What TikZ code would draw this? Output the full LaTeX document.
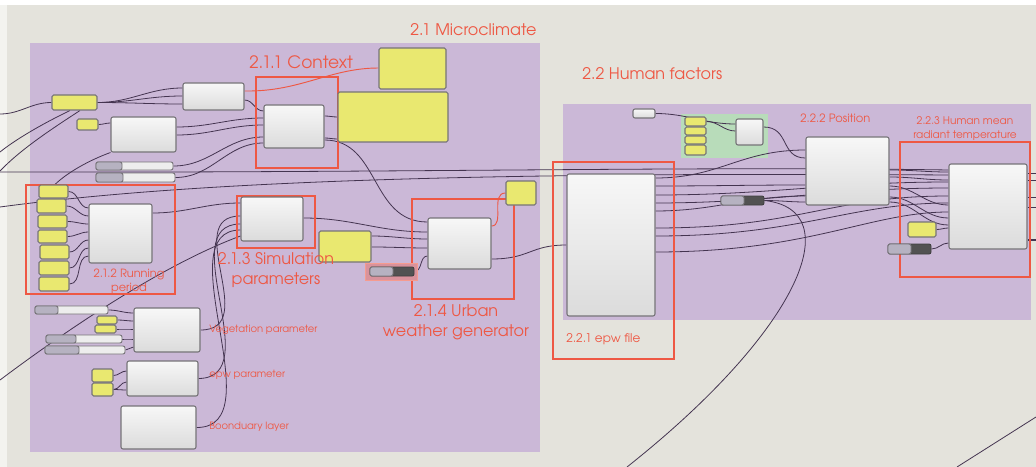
\documentclass[tikz,border=0pt]{standalone}
\usepackage{fontspec}
\setmainfont{texgyreadventor}[Extension=.otf, UprightFont=*-regular, BoldFont=*-bold]
\usetikzlibrary{fit,calc}
\definecolor{bg}{RGB}{228,227,220}
\definecolor{grp}{RGB}{203,184,215}
\definecolor{ylw}{RGB}{233,232,112}
\definecolor{redc}{RGB}{238,88,68}
\definecolor{grn}{RGB}{184,220,186}
\definecolor{wirec}{RGB}{68,52,80}
\definecolor{edgec}{RGB}{118,116,120}
\definecolor{knob}{RGB}{182,178,193}
\pgfdeclarelayer{grpL}
\pgfdeclarelayer{wireL}
\pgfdeclarelayer{frameL}
\pgfsetlayers{grpL,wireL,frameL,main}
\newcommand\bx[6]{\node[#1, fit={(#3,#4) (#5,#6)}, inner sep=0pt] (#2) {};}
\newcommand\sld[7]{%
  \node[#1, fit={(#3,#4) (#6,#7)}, inner sep=0pt] (#2) {};
  \node[sldknob, fit={(#3,#4) (#5,#7)}, inner sep=0pt] (#2k) {};}
\tikzset{
  grpbox/.style={fill=grp, draw=none},
  grnbox/.style={fill=grn, draw=none},
  frame/.style={draw=redc, line width=0.9pt},
  hlbox/.style={fill=redc!40!grp, draw=redc!60, line width=0.5pt},
  comp/.style={draw=edgec, line width=0.8pt, rounded corners=1.5pt, top color=white!97!black, bottom color=white!86!black},
  ylwbox/.style={draw=edgec, fill=ylw, line width=0.8pt, rounded corners=1.2pt},
  sldlight/.style={draw=edgec, fill=white!93!black, line width=0.7pt, rounded corners=1.5pt},
  slddark/.style={draw=black!75, fill=black!68, line width=0.7pt, rounded corners=1.5pt},
  sldknob/.style={draw=edgec, fill=knob, line width=0.7pt, rounded corners=1.5pt},
  wire/.style={draw=wirec, line width=0.6pt},
  redwire/.style={draw=redc, line width=0.7pt},
  lbl/.style={text=redc, inner sep=0pt},
  big/.style={font=\fontsize{12}{15}\selectfont},
  small/.style={font=\fontsize{7.5}{10.5}\selectfont},
}
\begin{document}
\begin{tikzpicture}[x=0.75pt,y=-0.75pt]
\useasboundingbox (0,0) rectangle (1036,467);
\begin{pgfonlayer}{grpL}
\fill[bg] (0,0) rectangle (1036,467);
\fill[white!55!bg] (0,0) rectangle (7,467);
\fill[white] (0,0) rectangle (1036,5);
\bx{grpbox}{G1}{30}{43}{540}{452}
\bx{grpbox}{G2}{563}{104}{1031}{320}
\bx{grnbox}{G3}{681}{114}{768}{158}
\end{pgfonlayer}

% free ends
\coordinate (L1) at (0,114);
\coordinate (L2) at (0,152);
\coordinate (L2b) at (0,171);
\coordinate (L4) at (0,172);
\coordinate (L3) at (0,207);
\coordinate (L6) at (0,380);
\coordinate (E1) at (627,467);
\coordinate (E2) at (957,467);
\coordinate (E3) at (1036,417);
\coordinate (O1) at (1036,173);
\coordinate (O2) at (1036,180);
\coordinate (O3) at (1036,197);
\coordinate (O4) at (1036,207);
\coordinate (O5) at (1036,240);

% ---------- Microclimate components ----------
\bx{comp}{A}{183}{83}{244}{110}
\bx{comp}{B}{264}{105}{324}{148}
\bx{comp}{C}{111}{117}{176}{152}
\bx{ylwbox}{P1}{379}{48}{446}{89}
\bx{ylwbox}{P2}{338}{92}{448}{142}
\bx{ylwbox}{Y1}{52}{95}{97}{110}
\bx{ylwbox}{Y2}{77}{119}{98}{130}
\sld{sldlight}{S1}{96}{162}{122}{173}{170}
\sld{sldlight}{S2}{96}{173}{123}{175}{182}
\bx{ylwbox}{R1}{39}{185}{68}{198}
\bx{ylwbox}{R2}{37}{199}{66}{213}
\bx{ylwbox}{R3}{38}{215}{67}{228}
\bx{ylwbox}{R4}{38}{230}{67}{243}
\bx{ylwbox}{R5}{40}{245}{69}{259}
\bx{ylwbox}{R6}{39}{261}{69}{275}
\bx{ylwbox}{R7}{39}{277}{69}{291}
\bx{comp}{RB}{89}{204}{152}{263}
\bx{comp}{SP}{241}{197}{303}{241}
\bx{ylwbox}{P3}{319}{231}{371}{262}
\bx{comp}{UWG}{428}{218}{491}{269}
\bx{ylwbox}{Y3}{506}{181}{536}{205}
\sld{sldlight}{S4}{35}{306}{58}{108}{314}
\bx{ylwbox}{Y4}{97}{316}{117}{324}
\bx{ylwbox}{Y5}{95}{325}{116}{333}
\sld{sldlight}{S5}{46}{335}{76}{122}{343}
\sld{sldlight}{S6}{45}{346}{79}{125}{354}
\bx{comp}{VEG}{134}{308}{200}{352}
\bx{ylwbox}{Y6}{92}{369}{113}{382}
\bx{ylwbox}{Y7}{92}{383}{113}{396}
\bx{comp}{EPW}{127}{361}{198}{396}
\bx{comp}{BL}{121}{406}{196}{449}

% ---------- Human factors components ----------
\bx{comp}{W1}{633}{109}{655}{118}
\bx{ylwbox}{Y8}{685}{117}{706}{126}
\bx{ylwbox}{Y9}{685}{127}{706}{135}
\bx{ylwbox}{Y10}{685}{136}{706}{144}
\bx{ylwbox}{Y11}{685}{145}{706}{155}
\bx{comp}{GB}{736}{119}{763}{145}
\bx{comp}{EF}{567}{174}{655}{316}
\bx{comp}{POS}{806}{137}{889}{205}
\bx{comp}{MRT}{949}{164}{1027}{249}
\bx{ylwbox}{Y12}{908}{222}{936}{237}

% ---------- red frames ----------
\begin{pgfonlayer}{frameL}
\bx{frame}{F1}{256}{77}{338}{168}
\bx{frame}{F2}{26}{185}{175}{294}
\bx{frame}{F3}{237}{196}{315}{248}
\bx{frame}{F4}{412}{199}{514}{299}
\bx{frame}{F5}{553}{162}{674}{359}
\bx{frame}{F6}{900}{142}{1030}{277}
\bx{hlbox}{H1}{365}{263}{417}{280}
\end{pgfonlayer}
\sld{slddark}{S3}{370}{267}{393}{414}{276}
\sld{slddark}{S7}{721}{196}{744}{764}{205}
\sld{slddark}{S8}{888}{244}{911}{931}{254}

% ---------- wires ----------
\begin{pgfonlayer}{wireL}
% long lines
\draw[wire] (L4) .. controls (400,173) and (700,166) .. (MRT.west |- 0,170);
\draw[wire] (L3) .. controls (200,180) and (500,172) .. (MRT.west |- 0,175);
\draw[wire] (L1) to[out=0,in=180] (Y1.west);
\draw[wire] (Y1.south -| 70,0) .. controls (40,125) and (15,140) .. (L2);
\draw[wire] (Y1.south -| 80,0) .. controls (50,130) and (20,150) .. (L2b);
\draw[wire] (L6) .. controls (80,320) and (170,262) .. (SP.west |- 0,236);
% context
\draw[wire] (Y1.east) to[out=0,in=180] (A.west |- 0,88);
\draw[wire] (Y1.east) to[out=0,in=180] (A.west |- 0,96);
\draw[wire] (Y1.east) to[out=0,in=180] (A.west |- 0,104);
\draw[wire] (A.east |- 0,100) to[out=0,in=180] (B.west |- 0,111);
\draw[redwire] (A.east |- 0,91) .. controls (300,92) and (330,68) .. (P1.west |- 0,68);
\draw[wire] (Y2.east) to[out=0,in=180] (C.west |- 0,123);
\draw[wire] (C.east |- 0,127) to[out=0,in=180] (B.west |- 0,118);
\draw[wire] (C.east |- 0,135) to[out=0,in=180] (B.west |- 0,125);
\draw[wire] (S1.east) to[out=0,in=180] (B.west |- 0,137);
\draw[wire] (S2.east) to[out=0,in=180] (B.west |- 0,143);
\draw[wire] (B.east |- 0,116) to[out=0,in=180] (P2.west |- 0,117);
\draw[wire] (B.east |- 0,138) to[out=0,in=180] (P2.west |- 0,139);
\draw[wire] (B.east |- 0,140) .. controls (380,140) and (370,222) .. (UWG.west |- 0,222);
\draw[wire] (R1.north -| 55,0) .. controls (70,170) and (95,158) .. (C.south west);
% running period
\foreach \r/\y in {R1/208,R2/216,R3/224,R4/232,R5/240,R6/248,R7/256}
  \draw[wire] (\r.east) to[out=0,in=180] (RB.west |- 0,\y);
\draw[wire] (RB.east |- 0,213) to[out=0,in=180] (SP.west |- 0,203);
% simulation / uwg
\draw[wire] (SP.east |- 0,218) to[out=0,in=180] (UWG.west |- 0,232);
\draw[wire] (P3.east |- 0,236) to[out=0,in=180] (UWG.west |- 0,239);
\draw[wire] (P3.east |- 0,247) to[out=0,in=180] (UWG.west |- 0,248);
\draw[wire] (S3.east) to[out=0,in=180] (UWG.west |- 0,256);
\draw[redwire] (UWG.east |- 0,226) .. controls (505,226) and (490,193) .. (Y3.west);
\draw[wire] (UWG.east |- 0,259) .. controls (530,259) and (530,245) .. (EF.west |- 0,245);
\draw[wire] (VEG.east) .. controls (262,330) and (180,216) .. (SP.west |- 0,216);
\draw[wire] (EPW.east) .. controls (268,378) and (172,224) .. (SP.west |- 0,224);
\draw[wire] (BL.east) .. controls (275,428) and (165,230) .. (SP.west |- 0,230);
% vegetation / epw inputs
\draw[wire] (S4.east) to[out=0,in=180] (VEG.west |- 0,313);
\draw[wire] (Y4.east) to[out=0,in=180] (VEG.west |- 0,321);
\draw[wire] (Y5.east) to[out=0,in=180] (VEG.west |- 0,329);
\draw[wire] (S5.east) to[out=0,in=180] (VEG.west |- 0,339);
\draw[wire] (S6.east) to[out=0,in=180] (VEG.west |- 0,347);
\draw[wire] (Y6.east) to[out=0,in=180] (EPW.west |- 0,371);
\draw[wire] (Y7.east) to[out=0,in=180] (EPW.west |- 0,382);
\draw[wire] (Y7.east) to[out=0,in=180] (EPW.west |- 0,390);
% human factors
\draw[wire] (W1.east) to[out=0,in=180] (GB.west |- 0,124);
\draw[wire] (Y8.east) to[out=0,in=180] (GB.west |- 0,131);
\draw[wire] (GB.east |- 0,127) .. controls (790,127) and (780,158) .. (POS.west |- 0,158);
\draw[wire] (EF.east |- 0,178) .. controls (720,178) and (740,150) .. (POS.west |- 0,150);
\draw[wire] (EF.east |- 0,186) to[out=0,in=180] (POS.west |- 0,185);
\draw[wire] (EF.east |- 0,195) to[out=0,in=180] (MRT.west |- 0,182);
\draw[wire] (EF.east |- 0,203) to[out=0,in=180] (MRT.west |- 0,188);
\draw[wire] (EF.east |- 0,211) to[out=0,in=180] (POS.west |- 0,196);
\draw[wire] (EF.east |- 0,228) .. controls (800,228) and (830,196) .. (MRT.west |- 0,196);
\draw[wire] (EF.east |- 0,236) .. controls (800,236) and (850,203) .. (MRT.west |- 0,203);
\draw[wire] (EF.east |- 0,252) .. controls (810,252) and (870,212) .. (MRT.west |- 0,212);
\draw[wire] (S7.east) to[out=0,in=180] (POS.west |- 0,202);
\draw[wire] (S7.east) .. controls (850,210) and (800,330) .. (E1);
\draw[wire] (POS.east |- 0,170) to[out=0,in=180] (MRT.west |- 0,172);
\draw[wire] (POS.east |- 0,177) to[out=0,in=180] (MRT.west |- 0,180);
\draw[wire] (POS.east |- 0,186) to[out=0,in=180] (MRT.west |- 0,205);
\draw[wire] (POS.east |- 0,197) to[out=0,in=180] (MRT.west |- 0,218);
\draw[wire] (POS.east |- 0,202) to[out=0,in=180] (MRT.west |- 0,225);
\draw[wire] (Y12.east) to[out=0,in=180] (MRT.west |- 0,228);
\draw[wire] (S8.east) to[out=0,in=180] (MRT.west |- 0,243);
\draw[wire] (MRT.east |- 0,173) -- (O1);
\draw[wire] (MRT.east |- 0,180) -- (O2);
\draw[wire] (MRT.east |- 0,197) -- (O3);
\draw[wire] (MRT.east |- 0,207) -- (O4);
\draw[wire, line width=0.9pt] (MRT.east |- 0,240) -- (O5);
\draw[wire] (E2) -- (E3);
\end{pgfonlayer}

% ---------- labels ----------
\node[lbl, big, anchor=west] (tMicro) at (410,30) {2.1 Microclimate};
\node[lbl, big, anchor=west] (tHuman) at (582,74) {2.2 Human factors};
\node[lbl, anchor=west, font=\fontsize{12.8}{15}\selectfont] (tCtx) at (249,62) {2.1.1 Context};
\node[lbl, align=center, font=\fontsize{8.5}{10.5}\selectfont] (tRun) at (129,281) {2.1.2 Running\\period};
\node[lbl, big, align=center] (tSim) at (276,270) {2.1.3 Simulation\\parameters};
\node[lbl, big, align=center] (tUWG) at (456,322) {2.1.4 Urban\\weather generator};
\node[lbl, small, anchor=west] (tVeg) at (209,330) {Vegetation parameter};
\node[lbl, small, anchor=west] (tEpwp) at (209,375) {epw parameter};
\node[lbl, small, anchor=west] (tBL) at (209,427) {Boonduary layer};
\node[lbl, anchor=west, font=\fontsize{9}{11}\selectfont] (tEF) at (566,339) {2.2.1 epw file};
\node[lbl, anchor=west, font=\fontsize{8.6}{11}\selectfont] (tPos) at (800,118) {2.2.2 Position};
\node[lbl, align=center, font=\fontsize{7.9}{10.5}\selectfont] (tMRT) at (965,129) {2.2.3 Human mean\\radiant temperature};
\end{tikzpicture}
\end{document}
